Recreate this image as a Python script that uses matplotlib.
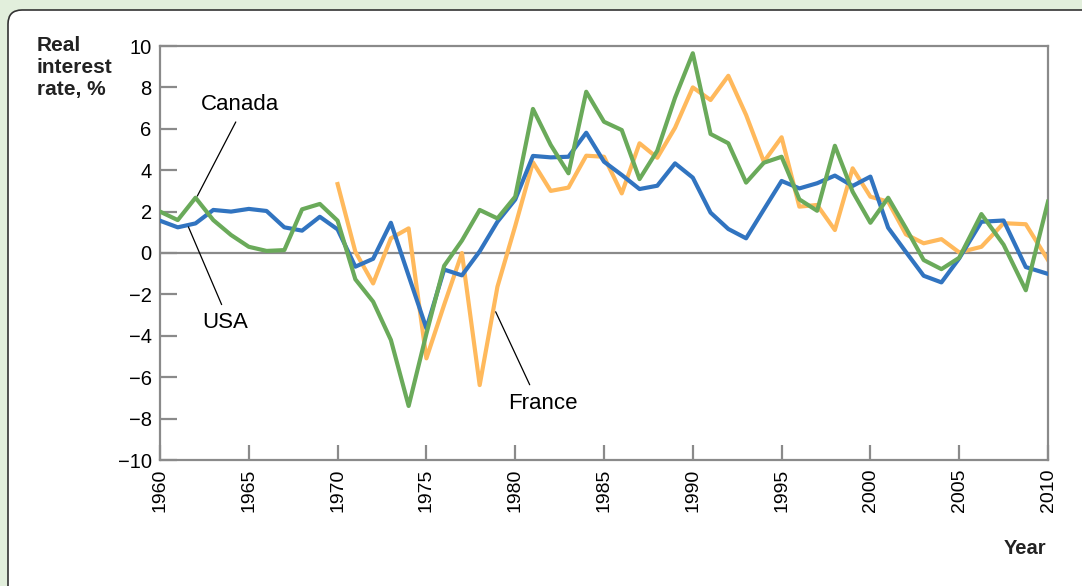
import numpy as np
import matplotlib
matplotlib.use("Agg")
from matplotlib import pyplot as plt
from matplotlib.patches import FancyBboxPatch
from matplotlib.transforms import IdentityTransform

plt.rcParams['font.family'] = ['Liberation Sans', 'DejaVu Sans']

# years (the last few points are spread over 2005-2010 in the original)
years = list(range(1960, 2006)) + [2006.25, 2007.5, 2008.75, 2010]

usa = [1.56, 1.24, 1.43, 2.08, 2.0, 2.13, 2.03, 1.24, 1.08, 1.75,
       1.14, -0.66, -0.28, 1.46, -1.1, -3.64, -0.8, -1.08, 0.08, 1.51,
       2.58, 4.69, 4.62, 4.65, 5.81, 4.41, 3.77, 3.09, 3.25, 4.33,
       3.64, 1.95, 1.16, 0.71, 2.1, 3.48, 3.12, 3.37, 3.74, 3.24,
       3.69, 1.22, 0.05, -1.1, -1.42, -0.26, 1.51, 1.57, -0.68, -1.01]

canada = [2.0, 1.59, 2.67, 1.59, 0.87, 0.3, 0.1, 0.14, 2.11, 2.37,
          1.56, -1.27, -2.35, -4.2, -7.39, -3.9, -0.62, 0.6, 2.08, 1.67,
          2.72, 6.96, 5.22, 3.85, 7.79, 6.34, 5.94, 3.57, 4.94, 7.5,
          9.65, 5.75, 5.3, 3.4, 4.36, 4.65, 2.59, 2.04, 5.18, 2.96,
          1.46, 2.67, 1.2, -0.34, -0.78, -0.23, 1.88, 0.4, -1.8, 2.48]

# France starts in 1970
france = [3.33, 0.06, -1.47, 0.71, 1.19, -5.09, -2.5, 0.0, -6.38, -1.63,
          1.3, 4.38, 3.0, 3.16, 4.70, 4.65, 2.88, 5.3, 4.6, 6.05,
          8.0, 7.39, 8.56, 6.67, 4.41, 5.59, 2.24, 2.32, 1.11, 4.09,
          2.72, 2.48, 0.9, 0.47, 0.67, 0.03, 0.3, 1.44, 1.39, -0.34]
france_years = years[10:]

xticks = [1960, 1965, 1970, 1975, 1980, 1985, 1990, 1995, 2000, 2005, 2010]
yticks = [-10, -8, -6, -4, -2, 0, 2, 4, 6, 8, 10]

blue = '#3174c0'
green = '#6aaa5a'
orange = '#ffb95c'
gray = '#8a8a8a'

W, H = 1082, 586
fig = plt.figure(figsize=(W / 100, H / 100), dpi=100, facecolor='#e2efdc')

# white rounded panel behind everything
panel = FancyBboxPatch((8, -40), W + 40, H - 10 + 40,
                       boxstyle="round,pad=0,rounding_size=14",
                       transform=IdentityTransform(), facecolor='white',
                       edgecolor='#333333', linewidth=1.2, zorder=-10)
fig.add_artist(panel)

ax = fig.add_axes([160 / W, (H - 460) / H, 888 / W, 414 / H])
ax.set_facecolor('none')
ax.set_zorder(1)

ax.axhline(0, color=gray, lw=1.6, zorder=1)
ax.plot(france_years, france, color=orange, lw=3.0, zorder=2)
ax.plot(years, usa, color=blue, lw=3.0, zorder=3)
ax.plot(years, canada, color=green, lw=3.0, zorder=4)

ax.set_xlim(1960, 2010)
ax.set_ylim(-10, 10)
ax.set_xticks(xticks)
ax.set_yticks(yticks)
ax.set_xticklabels([str(x) for x in xticks], rotation=90, fontsize=14)
ax.set_yticklabels([str(y).replace('-', '\u2212') for y in yticks], fontsize=14.5)
ax.tick_params(axis='both', direction='in', color=gray, width=1.6, length=12.5, pad=6)
ax.tick_params(axis='x', length=11)
for s in ax.spines.values():
    s.set_color(gray)
    s.set_linewidth(1.6)

# line labels
line_kw = dict(arrowstyle='-', color='black', lw=0.9, shrinkB=0)
ax.annotate('Canada', xy=(1962.1, 2.75), xytext=(1964.5, 7.15), ha='center', va='center',
            fontsize=16, arrowprops=dict(relpos=(0.49, 0.0), shrinkA=3, **line_kw))
ax.annotate('USA', xy=(1961.6, 1.26), xytext=(1963.66, -3.38), ha='center', va='center',
            fontsize=16, arrowprops=dict(relpos=(0.5, 1.0), shrinkA=4, **line_kw))
ax.annotate('France', xy=(1978.9, -2.84), xytext=(1981.57, -7.25), ha='center', va='center',
            fontsize=16, arrowprops=dict(relpos=(0.36, 1.0), shrinkA=4, **line_kw))

fig.text(37 / W, 1 - 36 / H, 'Real\ninterest\nrate, %', ha='left', va='top',
         fontsize=15, fontweight='bold', linespacing=1.2, color='#222222')
fig.text(1025 / W, 1 - 548 / H, 'Year', ha='center', va='center',
         fontsize=14.5, fontweight='bold', color='#222222')

fig.savefig('out.png', dpi=100, facecolor=fig.get_facecolor())
